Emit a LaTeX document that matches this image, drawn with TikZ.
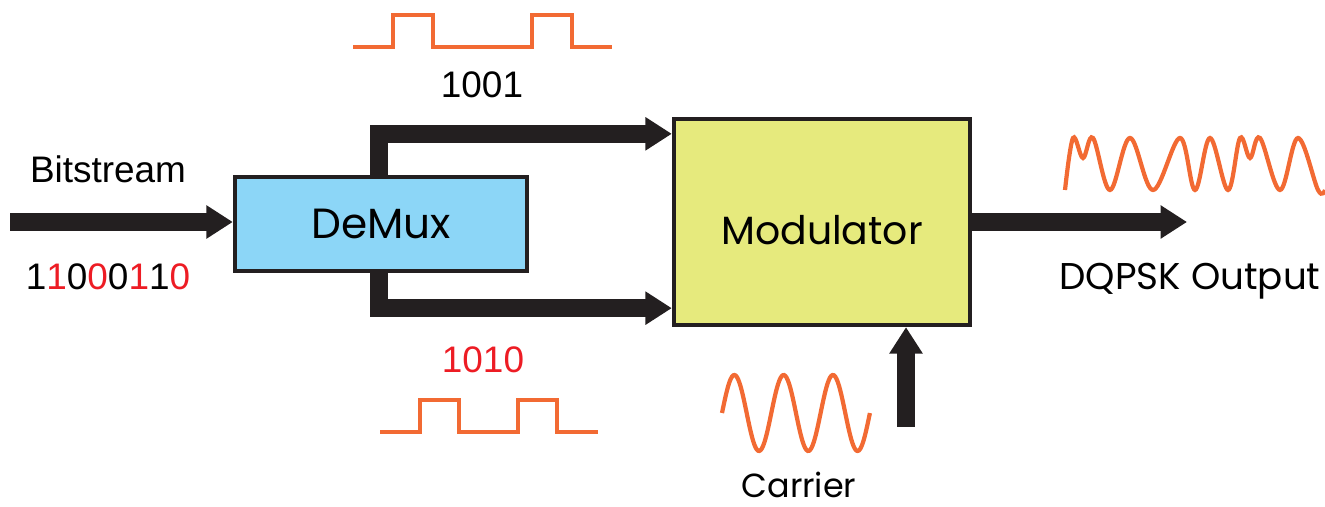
\documentclass[tikz,border=0pt]{standalone}
\usepackage{fontspec}
\setmainfont{Liberation Sans}
\newfontfamily\geofont{Poppins}
\usetikzlibrary{positioning, arrows.meta}
\definecolor{arrowblack}{HTML}{231F20}
\definecolor{demuxblue}{HTML}{8CD6F7}
\definecolor{modyellow}{HTML}{E6EA7D}
\definecolor{waveorange}{HTML}{F26A33}
\definecolor{bitred}{HTML}{ED1C24}

\begin{document}
\begin{tikzpicture}[x=0.01cm, y=-0.01cm,
    block/.style={draw=arrowblack, line width=1.2pt, inner sep=0pt, text depth=0pt},
    thickarrow/.style={draw=arrowblack, line width=5.1pt, -{Triangle[length=7.5pt, width=9pt]}},
    wave/.style={waveorange, line width=1.2pt},
    lbl/.style={anchor=base, inner sep=0pt, font=\fontsize{10.5}{12}\selectfont},
    geolbl/.style={lbl, font=\geofont\fontsize{10.6}{13}\selectfont}]
    \useasboundingbox (0,0) rectangle (1325,507);

    % Blocks
    \node (demux) [block, fill=demuxblue, minimum width=2.92cm, minimum height=0.94cm, text height=2.8mm, font=\geofont\fontsize{12}{14}\selectfont] at (381,224) {DeMux};
    \node (modulator) [block, fill=modyellow, minimum width=2.96cm, minimum height=2.06cm, text height=4.4mm, font=\geofont\fontsize{11.2}{14}\selectfont] at (822,222) {Modulator};

    % Connections
    \coordinate (bitin) at (10,222);
    \coordinate (outend) at (1187,222);
    \coordinate (carrierin) at (906,427);
    \draw[thickarrow] (bitin) -- (bitin -| demux.west);
    \draw[thickarrow] ([xshift=1.46cm]demux.north west) |- ([yshift=-0.17cm]modulator.north west);
    \draw[thickarrow] ([xshift=1.46cm]demux.south west) |- ([yshift=0.19cm]modulator.south west);
    \draw[thickarrow] (modulator.east) -- (outend);
    \draw[thickarrow] (carrierin) -- (carrierin |- modulator.south);

    % Labels
    \node (bitlabel) [lbl] at (108,183) {Bitstream};
    \node (bits) [lbl] at (108,290) {1\textcolor{bitred}{1}0\textcolor{bitred}{0}0\textcolor{bitred}{1}1\textcolor{bitred}{0}};
    \node (upperbits) [lbl] at (482,98) {1001};
    \node (lowerbits) [lbl, text=bitred] at (483,373) {1010};
    \node (outlabel) [geolbl] at (1190,290) {DQPSK Output};
    \node (carrierlabel) [geolbl, font=\geofont\fontsize{9.5}{11}\selectfont] at (799,498) {Carrier};

    % Waveforms
    \draw[wave] (353,47) -- (393,47) -- (393,15) -- (433,15) -- (433,47) -- (532,47) -- (532,15) -- (572,15) -- (572,47) -- (612,47);
    \draw[wave] (380,432) -- (420,432) -- (420,400) -- (459,400) -- (459,432) -- (518,432) -- (518,400) -- (557,400) -- (557,432) -- (598,432);
    \draw[wave] plot[domain=0:3, samples=120, smooth] ({722+49.3*\x}, {413-38*sin(360*\x)});
    \draw[wave] plot[smooth, tension=0.6] coordinates {(1065,190) (1073,138) (1083,158) (1093,138) (1110,190) (1130,138) (1153,190) (1180,138) (1195,190) (1210,138) (1228,190) (1240,138) (1250,158) (1260,138) (1280,190) (1298,138) (1318,190) (1325,190)};
\end{tikzpicture}
\end{document}
